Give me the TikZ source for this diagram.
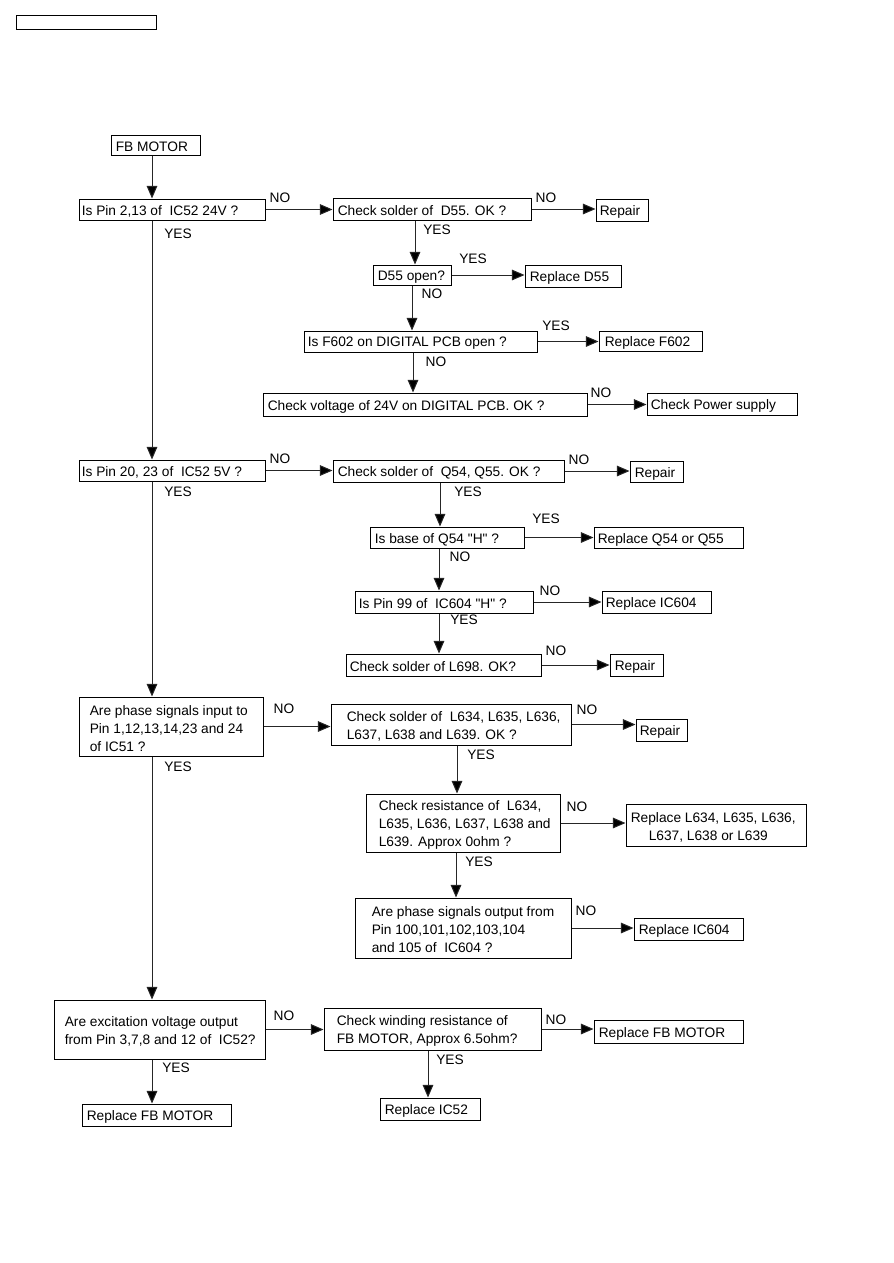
\documentclass[tikz,border=0pt]{standalone}
\usepackage{fontspec}
\setmainfont{Liberation Sans}[Ligatures=TeXOff]
\usetikzlibrary{arrows.meta}
\newcommand\bx[7]{%
 \node[box,minimum width={(#4-#2)*0.75pt},minimum height={(#5-#3)*0.75pt}] (#1) at ({(#2+#4)/2},{(#3+#5)/2}) {};
 \node[txt,anchor=west] (#1t) at ([xshift={#6*0.75pt},yshift=-1.5pt]#1.west) {#7};}
\begin{document}
\begin{tikzpicture}[x=0.75pt,y=-0.75pt,
 box/.style={draw,line width=0.75pt,inner sep=0pt,rectangle},
 txt/.style={inner sep=0pt,align=left,font=\fontsize{10.3}{13.5}\selectfont},
 lbl/.style={inner sep=0pt,font=\fontsize{10.3}{12}\selectfont},
 arr/.style={line width=0.75pt,draw=black!85,-{Triangle[length=9.5pt,width=8pt,fill=black]}},
 ln/.style={line width=0.75pt}]
\useasboundingbox (0,0) rectangle (893,1263);
\node[box,minimum width={140*0.75pt},minimum height={14*0.75pt}] (hdr) at (86,23) {};
\coordinate (trunk) at (152,0);
% level 1
\bx{start}{111}{135}{200}{155}{5}{FB MOTOR}
\bx{q1}{79}{199}{265}{220}{3}{Is Pin 2,13 of\ \ IC52 24V ?}
\bx{d55}{333}{198}{531}{220}{5}{Check solder of\ \ D55. OK ?}
\bx{rep1}{596}{199}{648}{221}{4}{Repair}
\bx{d55o}{373}{265}{451}{285}{5}{D55 open?}
\bx{rd55}{525}{265}{621}{287}{5}{Replace D55}
\bx{f602}{304}{331}{537}{352}{4}{Is F602 on DIGITAL PCB open ?}
\bx{rf602}{599}{331}{702}{351}{6}{Replace F602}
\bx{v24}{263}{393}{587}{416}{5}{Check voltage of 24V on DIGITAL PCB. OK ?}
\bx{cps}{647}{393}{797}{415}{4}{Check Power supply}
% level 2
\bx{q2}{79}{460}{265}{481}{3}{Is Pin 20, 23 of\ \ IC52 5V ?}
\bx{q54}{333}{460}{564}{482}{5}{Check solder of\ \ Q54, Q55. OK ?}
\bx{rep2}{630}{461}{683}{482}{5}{Repair}
\bx{base}{370}{527}{524}{548}{5}{Is base of Q54 "H" ?}
\bx{rq54}{594}{527}{743}{548}{4}{Replace Q54 or Q55}
\bx{p99}{355}{591}{533}{613}{4}{Is Pin 99 of\ \ IC604 "H" ?}
\bx{ric1}{602}{591}{711}{613}{4}{Replace IC604}
\bx{l698}{346}{654}{541}{676}{4}{Check solder of L698. OK?}
\bx{rep3}{610}{654}{663}{676}{5}{Repair}
% level 3
\bx{q3}{79}{697}{263}{756}{11}{Are phase signals input to\\Pin 1,12,13,14,23 and 24\\of IC51 ?}
\bx{sl}{331}{704}{571}{745}{16}{Check solder of\ \ L634, L635, L636,\\L637, L638 and L639. OK ?}
\bx{rep4}{636}{719}{687}{741}{4}{Repair}
\bx{res}{366}{794}{560}{852}{13}{Check resistance of\ \ L634,\\L635, L636, L637, L638 and\\L639. Approx 0ohm ?}
\bx{rl}{626}{804}{806}{846}{5}{Replace L634, L635, L636,\\\hspace*{13.5pt}L637, L638 or L639}
\bx{out}{355}{898}{571}{958}{17}{Are phase signals output from\\Pin 100,101,102,103,104\\and 105 of\ \ IC604 ?}
\bx{ric2}{634}{918}{743}{940}{5}{Replace IC604}
% level 4
\bx{q4}{54}{1000}{265}{1059}{11}{Are excitation voltage output\\from Pin 3,7,8 and 12 of\ \ IC52?}
\bx{wind}{324}{1008}{541}{1050}{13}{Check winding resistance of\\FB MOTOR, Approx 6.5ohm?}
\bx{rfb1}{594}{1020}{743}{1043}{5}{Replace FB MOTOR}
\bx{ric52}{380}{1098}{480}{1120}{5}{Replace IC52}
\bx{rfb2}{82}{1104}{231}{1126}{5}{Replace FB MOTOR}
% connectors: trunk
\draw[arr] (start.south -| trunk) -- (q1.north -| trunk);
\draw[arr] (q1.south -| trunk) -- (q2.north -| trunk);
\draw[arr] (q2.south -| trunk) -- (q3.north -| trunk);
\draw[arr] (q3.south -| trunk) -- (q4.north -| trunk);
\draw[arr] (q4.south -| trunk) -- (rfb2.north -| trunk);
% horizontals
\foreach \a/\b in {q1/d55,d55/rep1,d55o/rd55,f602/rf602,v24/cps,q2/q54,q54/rep2,base/rq54,p99/ric1,l698/rep3,q3/sl,sl/rep4,res/rl,out/ric2,q4/wind,wind/rfb1}
  \draw[arr] (\a.east) -- (\a.east -| \b.west);
% verticals
\coordinate (xa) at (415,0); \coordinate (xb) at (412,0); \coordinate (xc) at (413,0);
\draw[arr] (d55.south -| xa) -- (d55o.north -| xa);
\draw[arr] (d55o.south -| xb) -- (f602.north -| xb);
\draw[arr] (f602.south -| xc) -- (v24.north -| xc);
\coordinate (xd) at (440,0); \coordinate (xe) at (439,0);
\draw[arr] (q54.south -| xd) -- (base.north -| xd);
\draw[arr] (base.south -| xe) -- (p99.north -| xe);
\draw[arr] (p99.south -| xe) -- (l698.north -| xe);
\coordinate (xf) at (457,0); \coordinate (xg) at (456,0); \coordinate (xh) at (428,0);
\draw[arr] (sl.south -| xf) -- (res.north -| xf);
\draw[arr] (res.south -| xg) -- (out.north -| xg);
\draw[arr] (wind.south -| xh) -- (ric52.north -| xh);
% labels
\foreach \n/\x/\y/\t in {l1/280/198/NO,l2/546/198/NO,l3/437/230/YES,l4/178/234/YES,
 l5/473/259/YES,l6/432/294/NO,l7/556/326/YES,l8/436/362/NO,l9/601/393/NO,
 l10/280/459/NO,l11/579/460/NO,l12/468/492/YES,l13/178/492/YES,
 l14/546/519/YES,l15/460/557/NO,l16/550/591/NO,l17/464/620/YES,l18/556/651/NO,
 l19/284/709/NO,l20/587/710/NO,l21/481/755/YES,l22/178/767/YES,
 l23/577/807/NO,l24/479/862/YES,l25/586/911/NO,
 l26/284/1016/NO,l27/556/1020/NO,l28/450/1060/YES,l29/176/1068/YES}
  \node[lbl] (\n) at (\x,\y) {\t};
\end{tikzpicture}
\end{document}
